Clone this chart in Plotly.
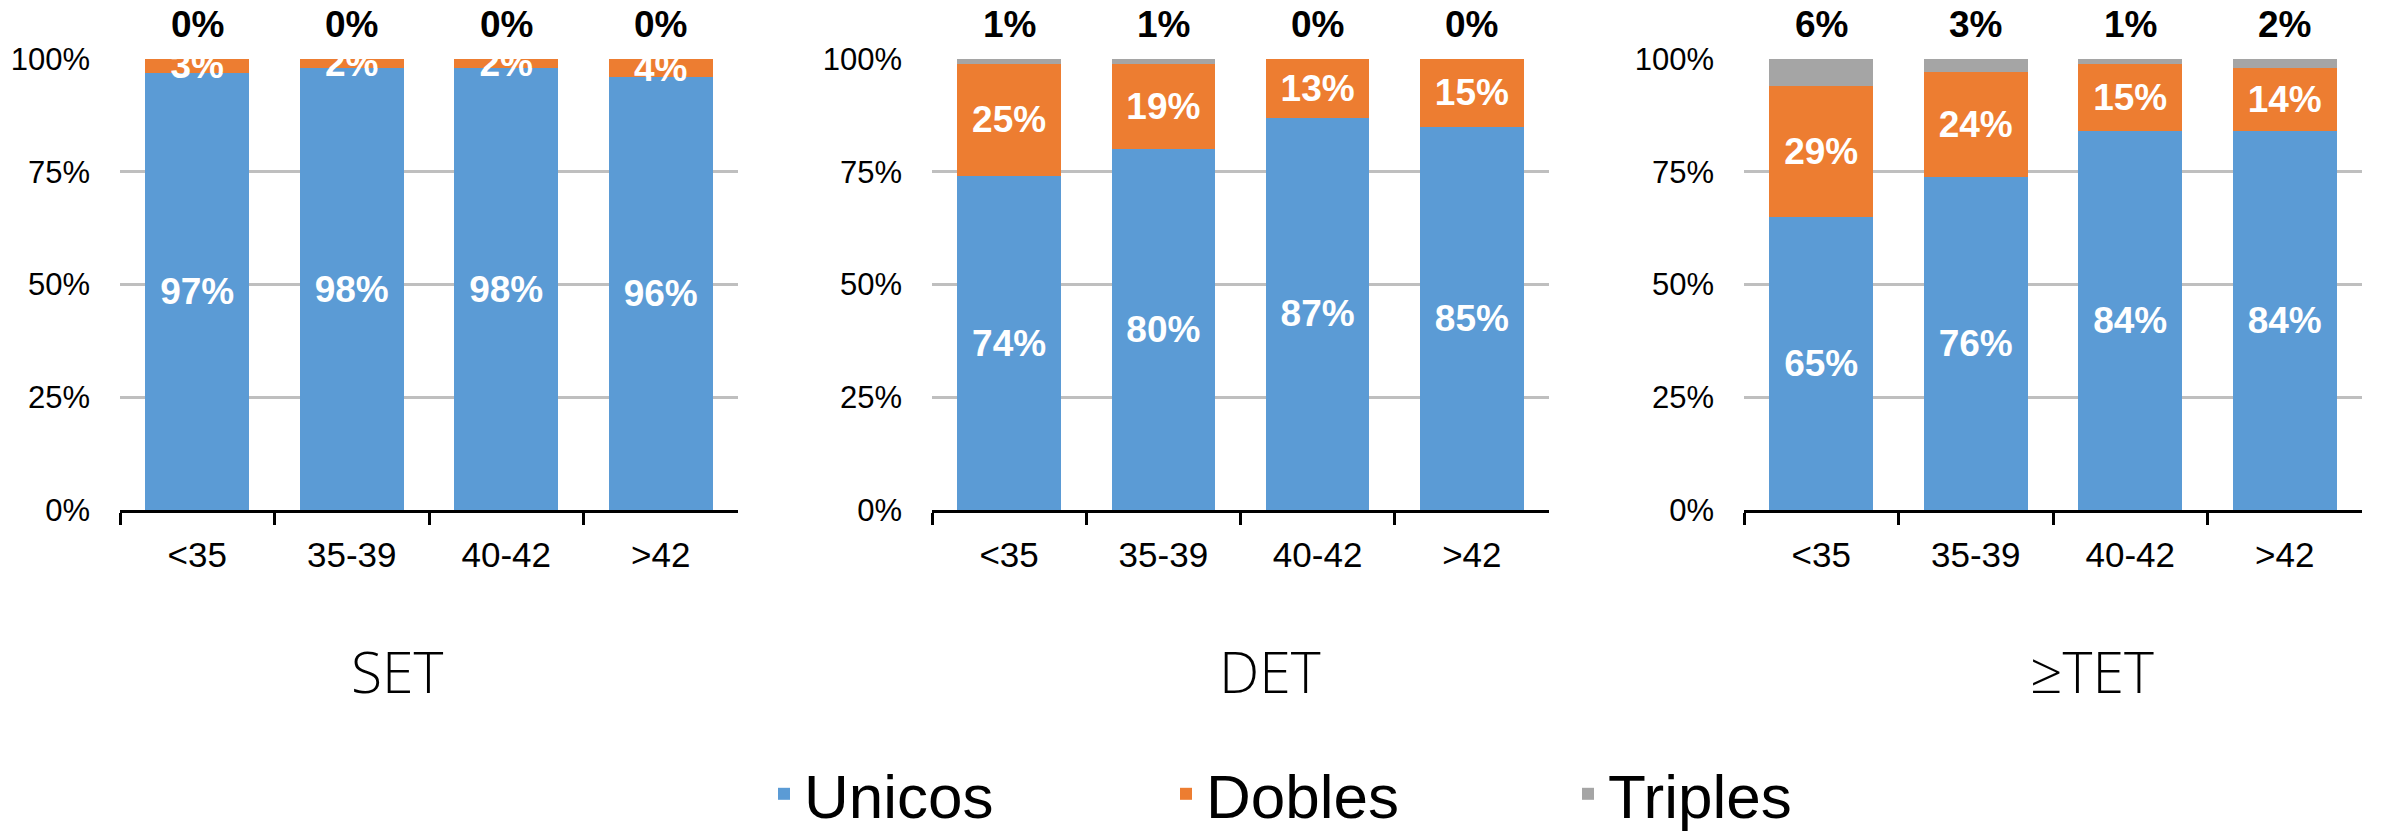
import plotly.graph_objects as go

categories = ["<35", "35-39", "40-42", ">42"]
panel_titles = ["SET", "DET", "≥TET"]
series_names = ["Unicos", "Dobles", "Triples"]
series_colors = ["#5B9BD5", "#ED7D31", "#A5A5A5"]

set_unicos = [97, 98, 98, 96]
set_dobles = [3, 2, 2, 4]
set_triples = [0, 0, 0, 0]

det_unicos = [74, 80, 87, 85]
det_dobles = [25, 19, 13, 15]
det_triples = [1, 1, 0, 0]

tet_unicos = [65, 76, 84, 84]
tet_dobles = [29, 24, 15, 14]
tet_triples = [6, 3, 1, 2]

panels = [
    (set_unicos, set_dobles, set_triples),
    (det_unicos, det_dobles, det_triples),
    (tet_unicos, tet_dobles, tet_triples),
]

W, H = 2396, 832
x_domains = [(120 / W, 738 / W), (932 / W, 1549 / W), (1744 / W, 2362 / W)]
y_domain = (1 - 510 / H, 1 - 59 / H)
title_x = [397 / W, 1270 / W, 2092 / W]

FONT = "Arial, Liberation Sans, Helvetica, sans-serif"

fig = go.Figure()
annotations = []
layout_axes = {}

for i, (uni, dob, tri) in enumerate(panels):
    n = "" if i == 0 else str(i + 1)
    xa, ya = "x" + n, "y" + n
    for k, (name, color, vals) in enumerate(zip(series_names, series_colors, (uni, dob, tri))):
        show_text = k < 2
        fig.add_trace(go.Bar(
            x=categories, y=vals, name=name,
            marker=dict(color=color, line=dict(width=0)),
            text=[f"{v}%" for v in vals],
            textposition="inside" if show_text else "none",
            insidetextanchor="middle",
            constraintext="none",
            textangle=0,
            textfont=dict(family=FONT, size=37, color="white", weight="bold"),
            xaxis=xa, yaxis=ya,
            legendgroup=name, showlegend=(i == 0),
            hovertemplate="%{x}: " + name + " %{text}<extra></extra>",
        ))
    for c, v in zip(categories, tri):
        annotations.append(dict(
            x=c, y=1, xref=xa, yref=ya, text=f"<b>{v}%</b>",
            showarrow=False, yanchor="bottom", yshift=13, borderpad=0,
            font=dict(family=FONT, size=37, color="black"),
        ))
    annotations.append(dict(
        x=title_x[i], y=1 - 671 / H, xref="paper", yref="paper",
        text=panel_titles[i], showarrow=False, xanchor="center", yanchor="middle",
        font=dict(family="Open Sans, Lato, sans-serif", size=57, color="black", weight=300),
    ))
    layout_axes["xaxis" + n] = dict(
        domain=list(x_domains[i]), anchor=ya,
        showline=True, linecolor="black", linewidth=3,
        ticks="outside", ticklen=12, tickwidth=2.5, tickcolor="black",
        tickson="boundaries", showgrid=False,
        tickfont=dict(family=FONT, size=35, color="black"),
        ticklabelstandoff=12,
    )
    layout_axes["yaxis" + n] = dict(
        domain=list(y_domain), anchor=xa, range=[0, 1],
        tickvals=[0, 0.25, 0.5, 0.75, 1], ticktext=["0%", "25%", "50%", "75%", "100%"],
        showgrid=True, gridcolor="#BFBFBF", gridwidth=2.5,
        zeroline=False, showline=False, ticks="",
        tickfont=dict(family=FONT, size=31, color="black"),
        ticklabelstandoff=29,
    )

fig.update_layout(
    width=W, height=H,
    barmode="stack", barnorm="fraction", bargap=0.33,
    plot_bgcolor="white", paper_bgcolor="white",
    margin=dict(l=0, r=0, t=0, b=0, autoexpand=False),
    annotations=annotations,
    showlegend=True,
    legend=dict(
        orientation="h", x=764 / W, xanchor="left", y=1 - 794 / H, yanchor="middle",
        font=dict(family=FONT, size=62, color="black"),
        entrywidth=357, entrywidthmode="pixels", traceorder="normal",
        bgcolor="rgba(0,0,0,0)",
    ),
    **layout_axes,
)

fig.write_html("out.html", config={"displayModeBar": False},
               post_script="document.body.style.margin='0';")
